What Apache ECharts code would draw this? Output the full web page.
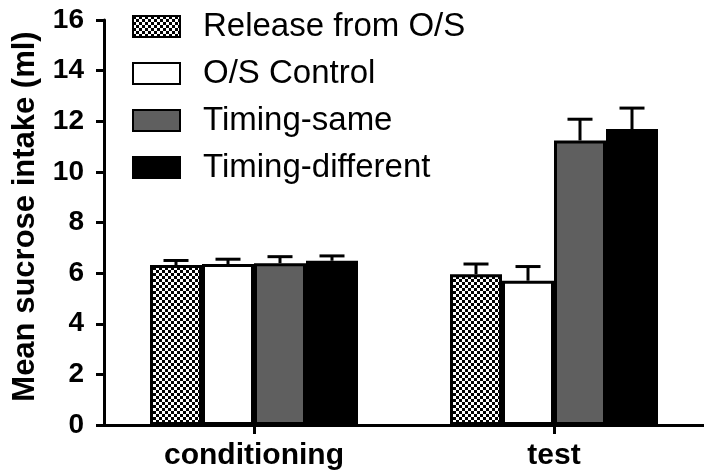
<!DOCTYPE html>
<html><head><meta charset="utf-8">
<script src="https://cdn.jsdelivr.net/npm/echarts@6/dist/echarts.min.js"></script>
<style>html,body{margin:0;padding:0;background:#fff}#c{width:704px;height:476px}</style>
</head><body><div id="c"></div>
<script>
const categories = ['conditioning', 'test'];
const seriesNames = ['Release from O/S', 'O/S Control', 'Timing-same', 'Timing-different'];
const releaseMeans = [6.32, 5.96];
const controlMeans = [6.36, 5.70];
const sameMeans = [6.39, 11.24];
const diffMeans = [6.49, 11.69];
const releaseErr = [0.18, 0.40];
const controlErr = [0.19, 0.56];
const sameErr = [0.26, 0.84];
const diffErr = [0.19, 0.83];
const yTicks = [0, 2, 4, 6, 8, 10, 12, 14, 16];

const FONT = 'Liberation Sans, Arial, sans-serif';
const BAR_W = 52;

// checker pattern
const pc = document.createElement('canvas');
pc.width = 6; pc.height = 6;
const pctx = pc.getContext('2d');
pctx.fillStyle = '#fff'; pctx.fillRect(0,0,6,6);
pctx.fillStyle = '#000'; pctx.fillRect(0,0,3,3); pctx.fillRect(3,3,3,3);

const means = [releaseMeans, controlMeans, sameMeans, diffMeans];
const errs = [releaseErr, controlErr, sameErr, diffErr];
const fills = [{image: pc, repeat: 'repeat'}, '#ffffff', '#5f5f5f', '#000000'];

const series = means.map((m, i) => ({
  name: seriesNames[i], type: 'bar', data: m, barWidth: BAR_W, barGap: '0%',
  itemStyle: {color: fills[i], borderColor: '#000', borderWidth: 3},
  z: 2
}));

means.forEach((m, i) => {
  series.push({
    type: 'custom', name: 'err' + i, z: 1,
    data: m.map((v, k) => [k, v, v + errs[i][k]]),
    renderItem: function (params, api) {
      const c0 = api.coord([api.value(0), api.value(1)]);
      const c1 = api.coord([api.value(0), api.value(2)]);
      const x = c0[0] + (i - 1.5) * BAR_W;
      const hw = 12.5;
      return {type: 'group', children: [
        {type: 'line', shape: {x1: x, y1: c0[1], x2: x, y2: c1[1]}, style: {stroke: '#000', lineWidth: 3}},
        {type: 'line', shape: {x1: x - hw, y1: c1[1], x2: x + hw, y2: c1[1]}, style: {stroke: '#000', lineWidth: 3}}
      ]};
    }
  });
});

const chart = echarts.init(document.getElementById('c'), null, {renderer: 'canvas'});
chart.setOption({
  animation: false,
  backgroundColor: '#fff',
  grid: {left: 104, top: 20, width: 608, height: 405},
  legend: {
    data: seriesNames, orient: 'vertical', left: 127, top: 5,
    itemWidth: 47, itemHeight: 21, itemGap: 14, icon: 'rect',
    textStyle: {fontFamily: FONT, fontSize: 33, color: '#000', padding: [0, 0, 0, 18]},
    selectedMode: false
  },
  xAxis: {
    type: 'category', data: categories,
    axisLine: {lineStyle: {color: '#000', width: 3}},
    axisTick: {show: true, alignWithLabel: true, length: 9, lineStyle: {color: '#000', width: 3}},
    axisLabel: {fontFamily: FONT, fontSize: 30, fontWeight: 'bold', color: '#000', margin: 16}
  },
  yAxis: {
    type: 'value', min: yTicks[0], max: yTicks[yTicks.length - 1], interval: 2,
    name: 'Mean sucrose intake (ml)', nameLocation: 'middle', nameGap: 63,
    nameTextStyle: {fontFamily: FONT, fontSize: 31, fontWeight: 'bold', color: '#000', padding: [0, 0, 0, 12]},
    axisLine: {show: true, lineStyle: {color: '#000', width: 3}},
    axisTick: {show: true, length: 8, lineStyle: {color: '#000', width: 3}},
    axisLabel: {fontFamily: FONT, fontSize: 28, fontWeight: 'bold', color: '#000', margin: 20},
    splitLine: {show: false}
  },
  series: series
});
</script></body></html>
